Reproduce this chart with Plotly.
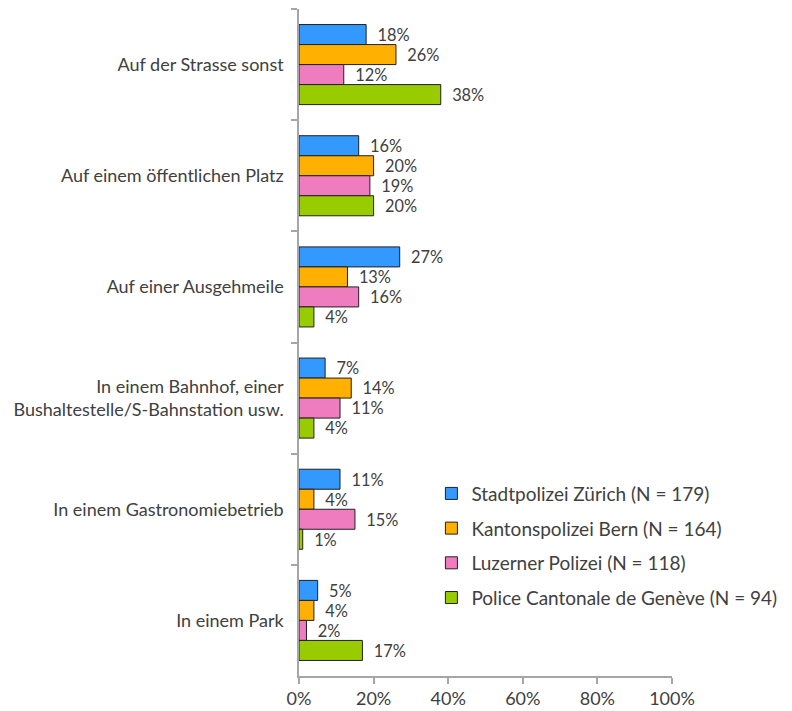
import plotly.graph_objects as go

categories = [
    "Auf der Strasse sonst",
    "Auf einem öffentlichen Platz",
    "Auf einer Ausgehmeile",
    "In einem Bahnhof, einer<br>Bushaltestelle/S-Bahnstation usw.",
    "In einem Gastronomiebetrieb",
    "In einem Park",
]
zuerich = [18, 16, 27, 7, 11, 5]
bern = [26, 20, 13, 14, 4, 4]
luzern = [12, 19, 16, 11, 15, 2]
geneve = [38, 20, 4, 4, 1, 17]

series_names = [
    "Stadtpolizei Zürich (N = 179)",
    "Kantonspolizei Bern (N = 164)",
    "Luzerner Polizei (N = 118)",
    "Police Cantonale de Genève (N = 94)",
]
colors = ["#3399FF", "#FFB000", "#F07CC0", "#99CC00"]
txt = "#404040"
font_family = "Lato, 'Open Sans', sans-serif"

fig = go.Figure()
for i, (name, vals, col) in enumerate(zip(series_names, [zuerich, bern, luzern, geneve], colors)):
    fig.add_trace(go.Bar(
        y=categories, x=vals, name=name, orientation="h",
        legendgroup=f"g{i}",
        marker=dict(color=col, line=dict(color="#202020", width=1)),
        text=[f"  {v}%" for v in vals], textposition="outside",
        textfont=dict(size=18, color=txt), cliponaxis=False,
    ))

# page body adds an 8px offset, so the figure is a bit smaller than the window
fig.update_layout(
    width=784, height=703,
    barmode="group", bargap=0.28, bargroupgap=0,
    plot_bgcolor="white", paper_bgcolor="white",
    font=dict(family=font_family, size=18, color=txt),
    margin=dict(l=291, r=120, t=1, b=35),
    showlegend=True,
    legend=dict(x=0.355, y=0.302, xanchor="left", yanchor="top",
                font=dict(size=19, color=txt), tracegroupgap=7,
                traceorder="grouped", bgcolor="rgba(0,0,0,0)"),
    xaxis=dict(range=[0, 100], tickvals=[0, 20, 40, 60, 80, 100],
               ticktext=["0%", "20%", "40%", "60%", "80%", "100%"],
               showgrid=False, zeroline=False, showline=True,
               linecolor="#A6A6A6", linewidth=1.5, ticks="outside",
               ticklen=6, tickcolor="#A6A6A6", tickwidth=1.5,
               automargin=False),
    yaxis=dict(autorange="reversed", showgrid=False, showline=True,
               linecolor="#A6A6A6", linewidth=1.5, ticks="outside",
               tickson="boundaries", ticklen=6, tickcolor="#A6A6A6",
               tickwidth=1.5, ticklabelstandoff=10, automargin=False),
)

fig.write_html("out.html")
